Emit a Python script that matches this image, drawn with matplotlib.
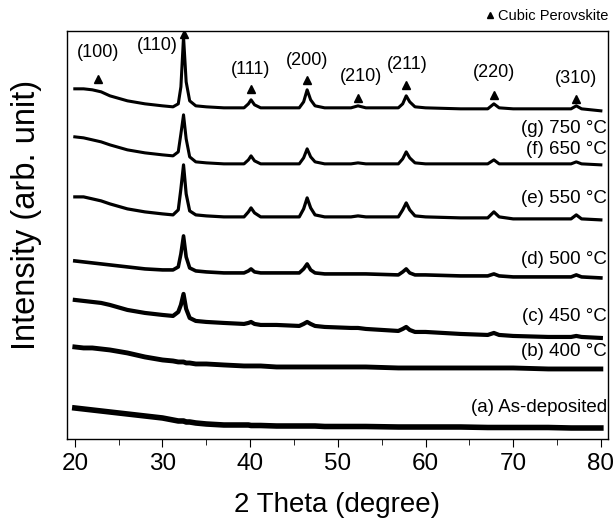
import numpy as np
import matplotlib
matplotlib.use("Agg")
import matplotlib.pyplot as plt
from matplotlib.lines import Line2D

plt.rcParams['font.family'] = ['Liberation Sans', 'DejaVu Sans']

# common 2-theta sampling points (degree)
two_theta = [20, 21, 22, 23, 24, 26, 28, 30, 31.2, 31.8, 32.1, 32.4, 32.7, 33.1, 33.8,
             35, 37, 39.3, 39.8, 40.1, 40.5, 41.2, 43, 45.6, 46.1, 46.5, 46.9, 47.4,
             48.5, 51.5, 52.3, 53.2, 56.9, 57.4, 57.8, 58.2, 58.8, 60, 64, 67.1, 67.8,
             68.4, 70, 74, 76.6, 77.2, 77.8, 80]

# stacked intensities (arb. unit, already offset)
int_g = [350, 350, 349, 347, 343, 338, 335, 333, 332, 335, 352, 402, 357, 338, 333,
         332, 331, 331, 335, 339, 334, 331, 331, 331, 337, 349, 339, 333,
         331, 331, 333, 331, 331, 335, 343, 337, 332, 331, 330, 330, 335,
         331, 330, 330, 330, 333, 330, 328]
int_f = [302, 301, 299, 297, 294, 289, 286, 284, 283, 287, 305, 324, 300, 282, 277,
         276, 275, 275, 279, 283, 278, 275, 275, 275, 281, 290, 282, 277,
         275, 275, 276, 275, 275, 280, 287, 281, 276, 275, 275, 275, 279,
         275, 275, 275, 275, 277, 275, 274]
int_e = [242, 242, 240, 238, 235, 230, 227, 225, 224, 229, 250, 274, 245, 228, 224,
         223, 222, 222, 227, 231, 226, 222, 222, 222, 230, 241, 231, 224,
         222, 222, 223, 222, 222, 229, 236, 229, 223, 222, 221, 221, 227,
         222, 220, 220, 220, 224, 220, 219]
int_d = [178, 177, 176, 175, 174, 172, 170, 169, 169, 172, 185, 203, 182, 171, 168,
         167, 166, 166, 168, 170, 167, 166, 166, 166, 170, 175, 169, 166,
         165, 165, 165, 165, 164, 167, 170, 166, 164, 164, 163, 163, 165,
         163, 162, 162, 162, 164, 162, 161]
int_c = [139, 138, 137, 136, 134, 129, 126, 124, 123, 127, 134, 145, 130, 121, 118,
         117, 116, 115, 116, 117, 115, 114, 114, 113, 115, 117, 115, 113,
         112, 111, 111, 110, 108, 110, 112, 109, 107, 107, 105, 104, 106,
         104, 103, 102, 102, 103, 102, 101]
int_b = [92, 91, 91, 90, 89, 86, 82, 79, 78, 77, 77, 77, 76, 76, 75,
         75, 74, 73, 73, 73, 73, 73, 72, 72, 72, 72, 72, 72,
         72, 72, 72, 72, 71, 71, 71, 71, 71, 71, 71, 71, 71,
         71, 71, 70, 70, 70, 70, 70]
int_a = [31, 30, 29, 28, 27, 25, 23, 21, 19, 18, 18, 18, 17, 17, 16,
         15, 14, 14, 14, 13.5, 13.5, 13.5, 13, 13, 13, 13, 13, 13,
         12.5, 12.5, 12.5, 12.5, 12, 12, 12, 12, 12, 12, 12, 11.5, 11.5,
         11.5, 11.5, 11.5, 11, 11, 11, 11]

curves = [int_a, int_b, int_c, int_d, int_e, int_f, int_g]
labels = ['(a) As-deposited', '(b) 400 °C', '(c) 450 °C', '(d) 500 °C',
          '(e) 550 °C', '(f) 650 °C', '(g) 750 °C']
label_y = [31, 87, 122, 179, 240, 289, 310]
widths = [4.0, 3.5, 3.0, 2.6, 2.3, 2.2, 2.2]

# peak markers: hkl index, 2theta, marker height, label position
hkl = ['(100)', '(110)', '(111)', '(200)', '(210)', '(211)', '(220)', '(310)']
peak_pos = [22.7, 32.5, 40.1, 46.5, 52.3, 57.8, 67.8, 77.2]
marker_y = [360, 405, 350, 359, 341, 354, 344, 340]
hkl_y = [386, 393, 369, 378, 362, 374, 366, 360]
hkl_x = [22.7, 29.4, 40.1, 46.5, 52.6, 57.9, 67.8, 77.2]

fig = plt.figure(figsize=(6.14, 5.22), dpi=100)
ax = fig.add_axes([0.109, 0.159, 0.881, 0.782])

for y, lw in zip(curves, widths):
    ax.plot(two_theta, y, color='black', lw=lw, solid_joinstyle='round')

for lab, ly in zip(labels, label_y):
    ax.text(80.7, ly, lab, ha='right', va='center', fontsize=13.5)

ax.plot(peak_pos, marker_y, linestyle='none', marker='^', color='black', markersize=6)
for h, hx, hy in zip(hkl, hkl_x, hkl_y):
    ax.text(hx, hy, h, ha='center', va='center', fontsize=13)

ax.set_xlim(19.1, 80.8)
ax.set_ylim(0, 408)
ax.set_yticks([])
ax.set_xticks(np.arange(20, 81, 10))
ax.set_xticks(np.arange(25, 80, 10), minor=True)
ax.tick_params(axis='x', which='major', direction='out', length=6, labelsize=17.5, pad=4)
ax.tick_params(axis='x', which='minor', direction='out', length=4)
for s in ax.spines.values():
    s.set_linewidth(1.0)

ax.set_xlabel('2 Theta (degree)', fontsize=20, labelpad=12)
ax.set_ylabel('Intensity (arb. unit)', fontsize=23.5)
ax.yaxis.set_label_coords(-0.046, 0.55)

handle = Line2D([], [], linestyle='none', marker='^', color='black', markersize=5)
ax.legend([handle], ['Cubic Perovskite'], loc='lower right', bbox_to_anchor=(1.003, 1.015),
          frameon=False, fontsize=10.5, handletextpad=0.1, borderpad=0.1,
          borderaxespad=0, handlelength=0.8)

fig.savefig('out.png', dpi=100)
